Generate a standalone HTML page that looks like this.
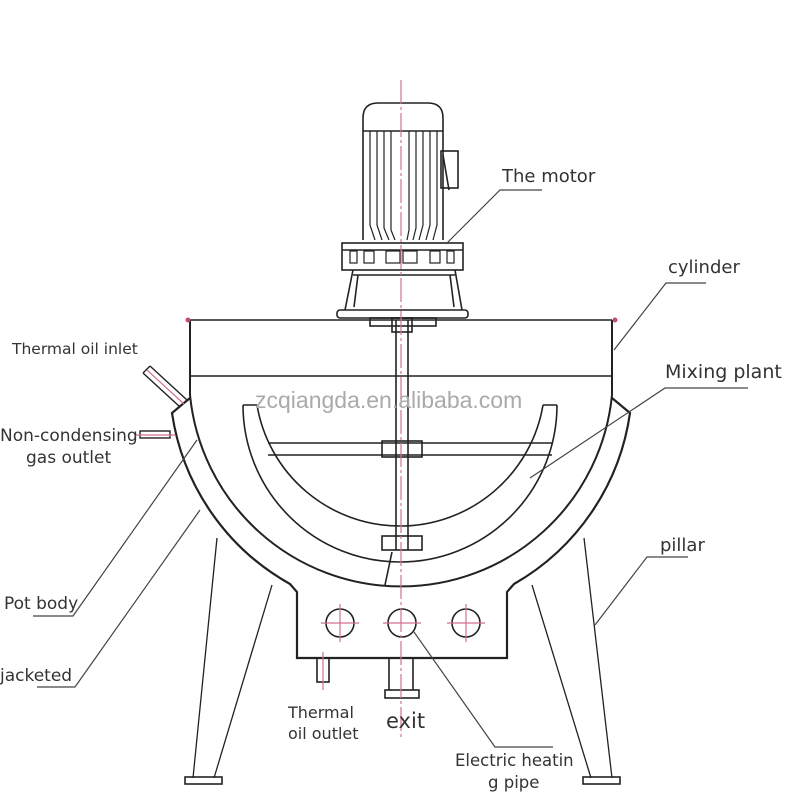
<!DOCTYPE html>
<html><head><meta charset="utf-8"><style>
html,body{margin:0;padding:0;background:#fff}
svg{display:block}
text{font-family:"DejaVu Sans","Liberation Sans",sans-serif;fill:#333}
</style></head><body>
<svg width="800" height="800" viewBox="0 0 800 800" xmlns="http://www.w3.org/2000/svg">
<g fill="none" stroke="#222" stroke-width="1.6">
<path d="M363,240 V118 Q363,103 378,103 H428 Q443,103 443,118 V240"/>
<line x1="363" y1="131" x2="443" y2="131"/>
<g stroke-width="1.2">
<path d="M370,131 V225 L375,240"/><path d="M377,131 V225 L382,240"/><path d="M384,131 V228 L389,240"/><path d="M391,131 V230 L395,240"/>
<path d="M409,131 V230 L407,240"/><path d="M416,131 V228 L413,240"/><path d="M423,131 V225 L419,240"/><path d="M430,131 V225 L426,240"/><path d="M437,131 V225 L433,240"/>
</g>
<rect x="441" y="151" width="17" height="37"/>
<line x1="443" y1="155" x2="449" y2="190"/>
<rect x="342" y="243" width="121" height="27"/>
<line x1="342" y1="250" x2="463" y2="250"/>
<g stroke-width="1.2">
<rect x="350" y="251" width="7" height="12"/><rect x="364" y="251" width="10" height="12"/><rect x="386" y="251" width="14" height="12"/><rect x="403" y="251" width="14" height="12"/><rect x="430" y="251" width="10" height="12"/><rect x="447" y="251" width="7" height="12"/>
</g>
<path d="M353,270 L345,310 M455,270 L462,310 M353,275 H455 M358,275 L354,307 M450,275 L454,307"/>
<rect x="337" y="310" width="131" height="8" rx="3"/>
<rect x="370" y="318" width="66" height="8"/>
<rect x="392" y="318" width="20" height="14"/>
<path d="M190,320 H612"/>
<path d="M190,320 V395 M612,320 V395" stroke-width="2"/>
<line x1="190" y1="376" x2="612" y2="376"/>
<path d="M190,395 A212,212 0 0 0 612,395" stroke-width="2"/>
<path d="M190,398 L172,413 A235,235 0 0 0 290,584 L297,592 V658 H507 V592 L514,584 A235,235 0 0 0 630,413 L612,398" stroke-width="2.2"/>
<path d="M243,405 A157,157 0 0 0 557,405 M257,405 A145,145 0 0 0 543,405 M243,405 H257 M543,405 H557"/>
<line x1="268" y1="443" x2="552" y2="443"/><line x1="268" y1="455" x2="552" y2="455"/>
<rect x="382" y="441" width="40" height="16"/>
<rect x="382" y="536" width="40" height="14"/>
<line x1="392" y1="552" x2="385" y2="585"/>
<path d="M396,320 V550 M408,320 V550"/>
<path d="M217,538 L193,778 M272,585 L214,778 M584,538 L612,778 M532,585 L591,778" stroke-width="1.3"/>
<rect x="185" y="777" width="37" height="7"/><rect x="583" y="777" width="37" height="7"/>
<rect x="317" y="658" width="12" height="24"/>
<path d="M389,658 V690 M413,658 V690"/>
<rect x="385" y="690" width="34" height="8"/>
<circle cx="340" cy="623" r="14"/><circle cx="402" cy="623" r="14"/><circle cx="466" cy="623" r="14"/>
<path d="M150,366 L187,400 M143,373 L180,407 M150,366 L143,373" stroke-width="1.4"/>
<rect x="140" y="431" width="30" height="7" stroke-width="1.4"/>
<g stroke="#444" stroke-width="1.2">
<path d="M542,190 H500 L446,244"/>
<path d="M706,283 H666 L614,350"/>
<path d="M748,388 H665 L530,478"/>
<path d="M688,557 H647 L595,625"/>
<path d="M33,616 H73 L197,440"/>
<path d="M37,687 H75 L200,510"/>
<path d="M414,632 L495,747 H553"/>
</g>
</g>
<g stroke="#d0708f" stroke-width="1.2" fill="none">
<line x1="401" y1="80" x2="401" y2="740" stroke-dasharray="24,3,3,3"/>
<path d="M321,623 H359 M340,604 V642 M383,623 H421 M447,623 H485 M466,604 V642"/>
<line x1="323" y1="652" x2="323" y2="690"/>
<path d="M147,370 L184,404 M136,435 H175"/>
</g>
<g fill="#c0506f"><circle cx="188" cy="320" r="2.5"/><circle cx="615" cy="320" r="2.5"/></g>
<text x="255" y="408" font-size="23" style="fill:#aaa;font-family:'Liberation Sans'">zcqiangda.en.alibaba.com</text>
<text x="502" y="182" font-size="18">The motor</text>
<text x="668" y="273" font-size="18">cylinder</text>
<text x="665" y="378" font-size="19">Mixing plant</text>
<text x="660" y="551" font-size="18">pillar</text>
<text x="4" y="609" font-size="17">Pot body</text>
<text x="0" y="681" font-size="17">jacketed</text>
<text x="0" y="441" font-size="17">Non-condensing</text>
<text x="26" y="463" font-size="17">gas outlet</text>
<text x="12" y="354" font-size="15.5">Thermal oil inlet</text>
<text x="288" y="718" font-size="16">Thermal</text>
<text x="288" y="739" font-size="16">oil outlet</text>
<text x="386" y="728" font-size="21">exit</text>
<text x="455" y="766" font-size="16.5">Electric heatin</text>
<text x="488" y="788" font-size="16.5">g pipe</text>
</svg>
</body></html>
